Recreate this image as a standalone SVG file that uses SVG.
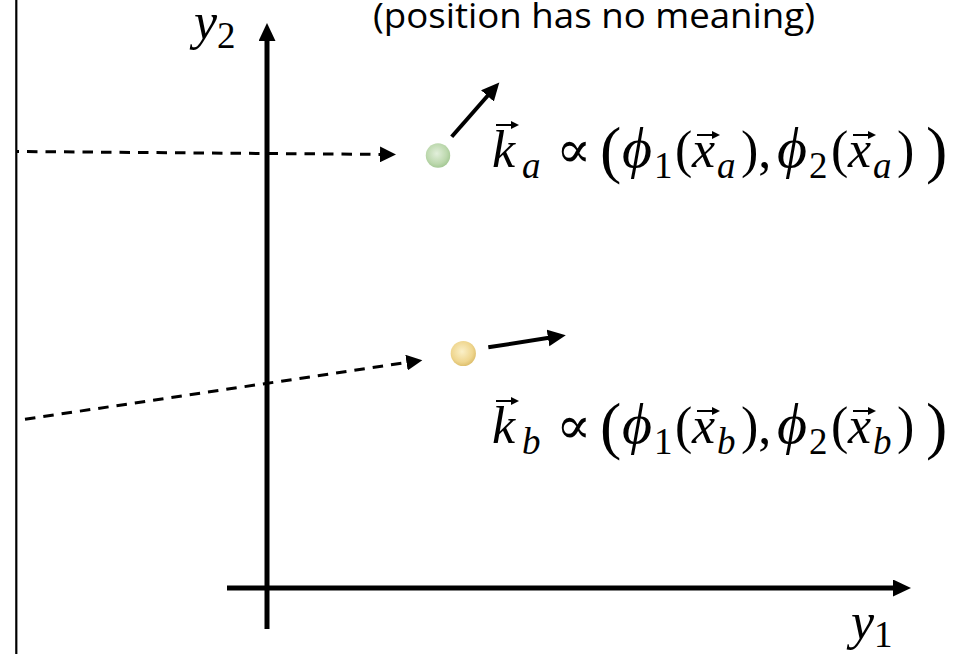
<svg xmlns="http://www.w3.org/2000/svg" width="959" height="654" viewBox="0 0 959 654">
<style>
.math{font-family:"Liberation Serif","DejaVu Serif",serif;font-size:52px;fill:#000}
.it{font-style:italic}
.phi{font-style:italic;font-size:58px}
.sub{font-size:37px;font-style:italic}
.subn{font-size:37px;font-style:normal}
.big{font-family:"Liberation Serif","DejaVu Serif",serif;font-size:64px;fill:#000}
.title{font-family:"Open Sans","Liberation Sans",sans-serif;font-size:35px;fill:#000}
.border{stroke:#000;stroke-width:2.2}
.axis{stroke:#000;stroke-width:5;fill:none}
.dash{stroke:#000;stroke-width:3;stroke-dasharray:10.5 8;fill:none}
.vec{stroke:#000;stroke-width:4;fill:none}
.acc{stroke:#000;stroke-width:2;fill:none}
</style>
<defs>
<marker id="axisHead" markerUnits="userSpaceOnUse" markerWidth="20" markerHeight="18" refX="1" refY="8.5" orient="auto"><path d="M0,0 L18,8.5 L0,17 z" fill="#000"/></marker>
<marker id="dashHead" markerUnits="userSpaceOnUse" markerWidth="18" markerHeight="16" refX="1" refY="8" orient="auto"><path d="M0,0 L16,8 L0,16 z" fill="#000"/></marker>
<marker id="vecHead" markerUnits="userSpaceOnUse" markerWidth="20" markerHeight="18" refX="1" refY="8.5" orient="auto"><path d="M0,0 L18,8.5 L0,17 z" fill="#000"/></marker>
<g id="vecAcc"><path class="acc" d="M0,0 H19"/><path d="M15,-4 L23,0 L15,4 z" fill="#000"/></g>
<radialGradient id="gGreen" cx="0.45" cy="0.42" r="0.6"><stop offset="0" stop-color="#e2efdb"/><stop offset="0.7" stop-color="#bcd8ad"/><stop offset="1" stop-color="#a3c793"/></radialGradient>
<radialGradient id="gYellow" cx="0.45" cy="0.42" r="0.6"><stop offset="0" stop-color="#fbf0c8"/><stop offset="0.7" stop-color="#efd68f"/><stop offset="1" stop-color="#dcbd6a"/></radialGradient>
</defs>

<line class="border" x1="16.3" y1="0" x2="16.3" y2="654"/>

<g id="axes">
<line id="y-axis" class="axis" x1="267" y1="629" x2="267" y2="40" marker-end="url(#axisHead)"/>
<line id="x-axis" class="axis" x1="227" y1="588" x2="894" y2="588" marker-end="url(#axisHead)"/>
</g>

<g id="label-y2"><text class="math" x="194" y="39"><tspan class="it">y</tspan><tspan class="subn" dy="9">2</tspan></text></g>
<g id="label-y1"><text class="math" x="851" y="639"><tspan class="it">y</tspan><tspan class="subn" dy="8">1</tspan></text></g>

<g id="title"><text class="title" x="373" y="28" textLength="442" lengthAdjust="spacingAndGlyphs">(position has no meaning)</text></g>

<g id="connectors">
<line class="dash" x1="17" y1="151.5" x2="381" y2="154.4" stroke-dashoffset="8.5" marker-end="url(#dashHead)"/>
<line class="dash" x1="25" y1="419.3" x2="407.5" y2="362.4" marker-end="url(#dashHead)"/>
<line class="vec" x1="451.7" y1="136.7" x2="488.1" y2="95.2" marker-end="url(#vecHead)"/>
<line class="vec" x1="488.3" y1="347.3" x2="549" y2="337.8" marker-end="url(#vecHead)"/>
</g>

<g id="node-a">
<circle cx="438" cy="155.5" r="12.2" fill="url(#gGreen)"/>
<text class="math" y="167"><tspan class="it" x="492">k</tspan><tspan class="sub" x="522" y="178">a</tspan><tspan x="556" y="167">∝</tspan><tspan class="phi" x="622">ϕ</tspan><tspan class="subn" x="654" y="178">1</tspan><tspan x="675" y="167">(</tspan><tspan class="it" x="692">x</tspan><tspan class="sub" x="717" y="178">a</tspan><tspan x="741" y="167">),</tspan><tspan class="phi" x="777">ϕ</tspan><tspan class="subn" x="809" y="178">2</tspan><tspan x="831" y="167">(</tspan><tspan class="it" x="848">x</tspan><tspan class="sub" x="873" y="178">a</tspan><tspan x="897" y="167">)</tspan></text>
<text class="big" x="600" y="171">(</text>
<text class="big" x="926" y="171">)</text>
<use href="#vecAcc" x="496" y="125"/>
<use href="#vecAcc" x="697" y="135"/>
<use href="#vecAcc" x="853" y="135"/>
</g>

<g id="node-b">
<circle cx="463.3" cy="353.5" r="12.6" fill="url(#gYellow)"/>
<text class="math" y="443"><tspan class="it" x="492">k</tspan><tspan class="sub" x="522" y="454">b</tspan><tspan x="556" y="443">∝</tspan><tspan class="phi" x="622">ϕ</tspan><tspan class="subn" x="654" y="454">1</tspan><tspan x="675" y="443">(</tspan><tspan class="it" x="692">x</tspan><tspan class="sub" x="717" y="454">b</tspan><tspan x="741" y="443">),</tspan><tspan class="phi" x="777">ϕ</tspan><tspan class="subn" x="809" y="454">2</tspan><tspan x="831" y="443">(</tspan><tspan class="it" x="848">x</tspan><tspan class="sub" x="873" y="454">b</tspan><tspan x="897" y="443">)</tspan></text>
<text class="big" x="600" y="447">(</text>
<text class="big" x="926" y="447">)</text>
<use href="#vecAcc" x="496" y="401"/>
<use href="#vecAcc" x="697" y="411"/>
<use href="#vecAcc" x="853" y="411"/>
</g>
</svg>
